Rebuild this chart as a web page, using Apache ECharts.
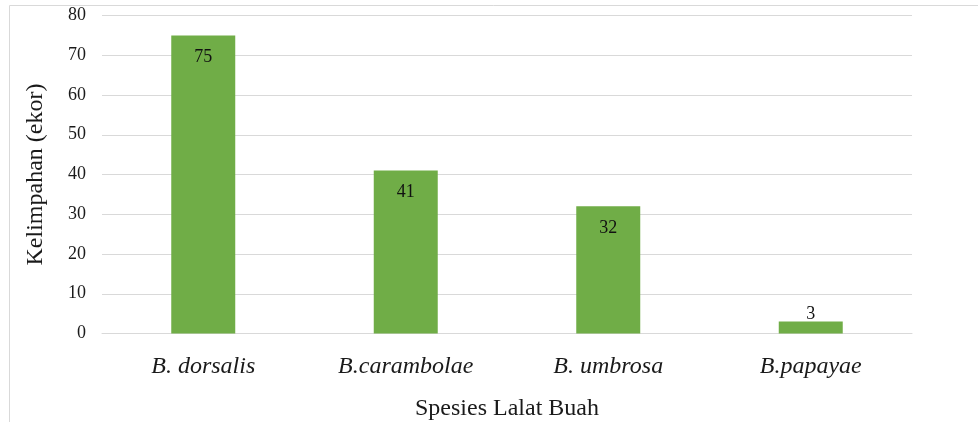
<!DOCTYPE html>
<html>
<head>
<meta charset="utf-8">
<script src="https://cdn.jsdelivr.net/npm/echarts@6/dist/echarts.min.js"></script>
<style>html,body{margin:0;padding:0;background:#fff}#c{width:978px;height:422px}</style>
</head>
<body>
<div id="c"></div>
<script>
var categories = ['B. dorsalis', 'B.carambolae', 'B. umbrosa', 'B.papayae'];
var values = [75, 41, 32, 3];
var yTicks = [0, 10, 20, 30, 40, 50, 60, 70, 80];

var chart = echarts.init(document.getElementById('c'), null, {renderer: 'canvas'});
var font = 'Liberation Serif, Times New Roman, serif';
chart.setOption({
  animation: false,
  graphic: [
    {type: 'line', shape: {x1: 9.5, y1: 5.5, x2: 978, y2: 5.5}, style: {stroke: '#d9d9d9', lineWidth: 1}},
    {type: 'line', shape: {x1: 9.5, y1: 5.5, x2: 9.5, y2: 422}, style: {stroke: '#d9d9d9', lineWidth: 1}}
  ],
  grid: {left: 102, right: 66, top: 15.5, bottom: 88.5, containLabel: false, outerBoundsMode: 'none'},
  xAxis: {
    type: 'category',
    data: categories,
    name: 'Spesies Lalat Buah',
    nameLocation: 'middle',
    nameGap: 63,
    nameTextStyle: {fontFamily: font, fontSize: 24, color: '#1a1a1a'},
    axisLine: {show: true, lineStyle: {color: '#d9d9d9'}},
    axisTick: {show: false},
    axisLabel: {fontFamily: font, fontSize: 24, fontStyle: 'italic', color: '#1a1a1a', margin: 21}
  },
  yAxis: {
    type: 'value',
    min: yTicks[0],
    max: yTicks[yTicks.length - 1],
    interval: 10,
    name: 'Kelimpahan (ekor)',
    nameLocation: 'middle',
    nameGap: 54,
    nameTextStyle: {fontFamily: font, fontSize: 24, color: '#1a1a1a'},
    axisLine: {show: false},
    axisTick: {show: false},
    splitLine: {lineStyle: {color: '#d9d9d9', width: 1}},
    axisLabel: {fontFamily: font, fontSize: 18, color: '#1a1a1a', margin: 16}
  },
  series: [{
    type: 'bar',
    data: values.map(function (v) {
      return {value: v, label: {position: v < 10 ? 'top' : 'insideTop', distance: v < 10 ? -2 : 13}};
    }),
    barWidth: '31.6%',
    itemStyle: {color: '#70ad47'},
    label: {show: true, fontFamily: font, fontSize: 18, color: '#111'}
  }]
});
</script>
</body>
</html>
